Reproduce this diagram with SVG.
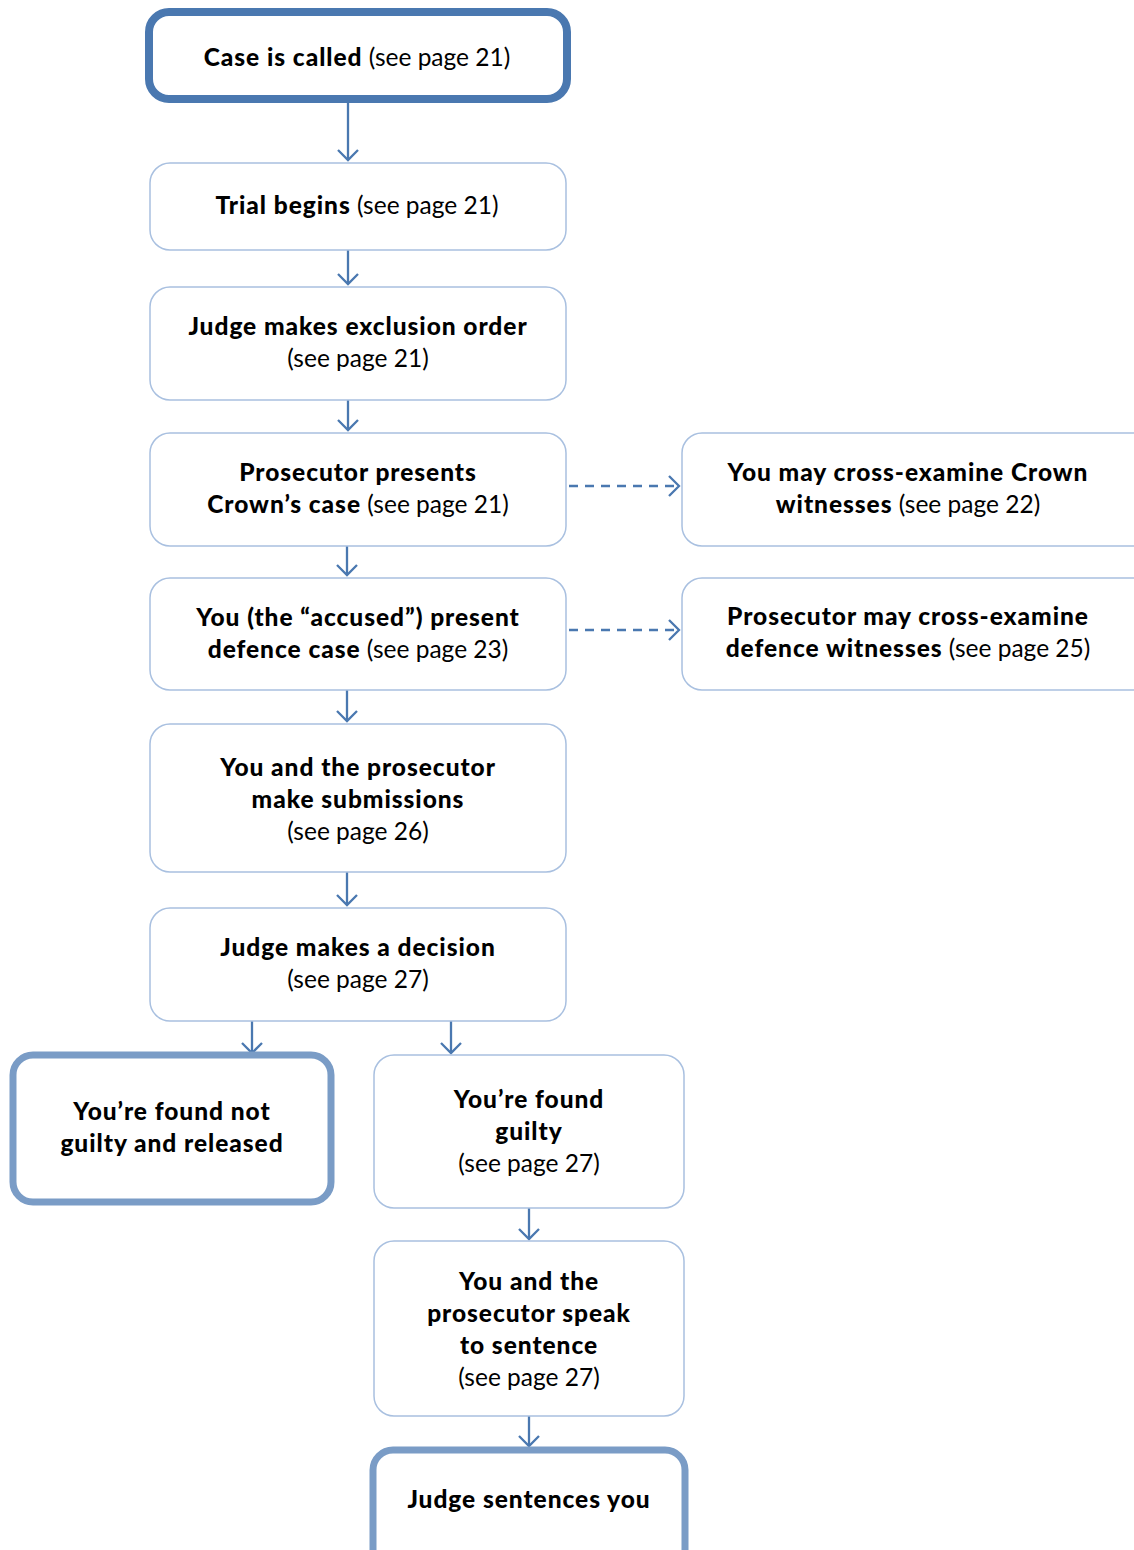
<svg xmlns="http://www.w3.org/2000/svg" width="1134" height="1550" viewBox="0 0 1134 1550">
<defs>
<style>
.box{fill:#fff;stroke:#a9c0e0;stroke-width:1.5}
.main{fill:#fff;stroke:#4a78b0;stroke-width:8}
.end{fill:#fff;stroke:#7a9cc6;stroke-width:7}
text{font-family:Lato,"Noto Sans","Liberation Sans",sans-serif;font-size:24.5px;fill:#000;text-anchor:middle}
.b{font-weight:900;letter-spacing:0.95px}
.conn{stroke:#4a78b0;stroke-width:2.3;fill:none}
.dash{stroke-dasharray:9,7}
</style>
<marker id="ah" viewBox="0 0 22 22" refX="11" refY="11" markerWidth="22" markerHeight="22" markerUnits="userSpaceOnUse" orient="auto">
<path d="M1,1 L11,11 L1,21" fill="none" stroke="#4a78b0" stroke-width="2.3"/>
</marker>
</defs>
<rect width="1134" height="1550" fill="#fff"/>
<g id="connectors">
<line class="conn" x1="348" y1="102" x2="348" y2="160" marker-end="url(#ah)"/>
<line class="conn" x1="348" y1="250" x2="348" y2="284" marker-end="url(#ah)"/>
<line class="conn" x1="348" y1="400" x2="348" y2="430" marker-end="url(#ah)"/>
<line class="conn" x1="347" y1="546" x2="347" y2="575" marker-end="url(#ah)"/>
<line class="conn" x1="347" y1="690" x2="347" y2="721" marker-end="url(#ah)"/>
<line class="conn" x1="347" y1="872" x2="347" y2="905" marker-end="url(#ah)"/>
<line class="conn" x1="252" y1="1021" x2="252" y2="1053" marker-end="url(#ah)"/>
<line class="conn" x1="451" y1="1021" x2="451" y2="1053" marker-end="url(#ah)"/>
<line class="conn" x1="529" y1="1208" x2="529" y2="1239" marker-end="url(#ah)"/>
<line class="conn" x1="529" y1="1416" x2="529" y2="1446" marker-end="url(#ah)"/>
<line class="conn dash" x1="569" y1="486" x2="679" y2="486" marker-end="url(#ah)"/>
<line class="conn dash" x1="569" y1="630" x2="679" y2="630" marker-end="url(#ah)"/>
</g>
<g id="n1"><rect class="main" x="149" y="12" width="418" height="87" rx="20"/>
<text x="357" y="66"><tspan class="b">Case is called</tspan> (see page 21)</text></g>
<g id="n2"><rect class="box" x="150" y="163" width="416" height="87" rx="20"/>
<text x="357" y="214"><tspan class="b">Trial begins</tspan> (see page 21)</text></g>
<g id="n3"><rect class="box" x="150" y="287" width="416" height="113" rx="20"/>
<text x="358" y="335" class="b">Judge makes exclusion order</text>
<text x="358" y="367">(see page 21)</text></g>
<g id="n4"><rect class="box" x="150" y="433" width="416" height="113" rx="20"/>
<text x="358" y="481" class="b">Prosecutor presents</text>
<text x="358" y="513"><tspan class="b">Crown’s case</tspan> (see page 21)</text></g>
<g id="n5"><rect class="box" x="682" y="433" width="470" height="113" rx="20"/>
<text x="908" y="481" class="b">You may cross-examine Crown</text>
<text x="908" y="513"><tspan class="b">witnesses</tspan> (see page 22)</text></g>
<g id="n6"><rect class="box" x="150" y="578" width="416" height="112" rx="20"/>
<text x="358" y="626" class="b">You (the “accused”) present</text>
<text x="358" y="658"><tspan class="b">defence case</tspan> (see page 23)</text></g>
<g id="n7"><rect class="box" x="682" y="578" width="470" height="112" rx="20"/>
<text x="908" y="625" class="b">Prosecutor may cross-examine</text>
<text x="908" y="657"><tspan class="b">defence witnesses</tspan> (see page 25)</text></g>
<g id="n8"><rect class="box" x="150" y="724" width="416" height="148" rx="20"/>
<text x="358" y="776" class="b">You and the prosecutor</text>
<text x="358" y="808" class="b">make submissions</text>
<text x="358" y="840">(see page 26)</text></g>
<g id="n9"><rect class="box" x="150" y="908" width="416" height="113" rx="20"/>
<text x="358" y="956" class="b">Judge makes a decision</text>
<text x="358" y="988">(see page 27)</text></g>
<g id="n10"><rect class="end" x="13" y="1055" width="318" height="147" rx="20"/>
<text x="172" y="1120" class="b">You’re found not</text>
<text x="172" y="1152" class="b">guilty and released</text></g>
<g id="n11"><rect class="box" x="374" y="1055" width="310" height="153" rx="20"/>
<text x="529" y="1108" class="b">You’re found</text>
<text x="529" y="1140" class="b">guilty</text>
<text x="529" y="1172">(see page 27)</text></g>
<g id="n12"><rect class="box" x="374" y="1241" width="310" height="175" rx="20"/>
<text x="529" y="1290" class="b">You and the</text>
<text x="529" y="1322" class="b">prosecutor speak</text>
<text x="529" y="1354" class="b">to sentence</text>
<text x="529" y="1386">(see page 27)</text></g>
<g id="n13"><rect class="end" x="373" y="1450" width="312" height="120" rx="20"/>
<text x="529" y="1508" class="b">Judge sentences you</text></g>
</svg>
